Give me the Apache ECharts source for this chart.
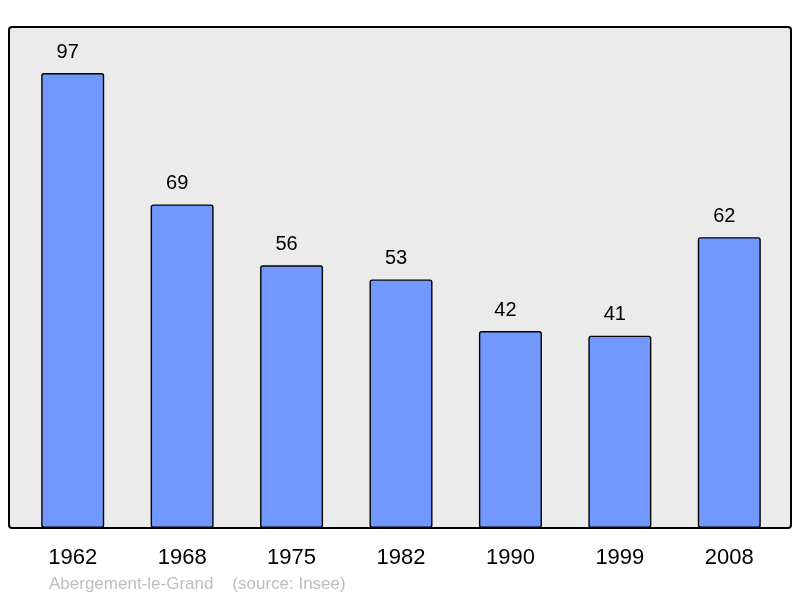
<!DOCTYPE html>
<html><head><meta charset="utf-8">
<script src="https://cdn.jsdelivr.net/npm/echarts@6/dist/echarts.min.js"></script>
<style>html,body{margin:0;padding:0;background:#fff}#c{width:800px;height:598px}</style>
</head><body><div id="c"></div>
<script>
var years = ['1962','1968','1975','1982','1990','1999','2008'];
var population = [97, 69, 56, 53, 42, 41, 62];
var footer = 'Abergement-le-Grand    (source: Insee)';

var chart = echarts.init(document.getElementById('c'), null, {renderer:'canvas'});
chart.setOption({
  animation:false,
  textStyle:{fontFamily:'Liberation Sans, Arial, sans-serif'},
  graphic:[
    {type:'rect', z:0, shape:{x:9,y:27,width:782,height:501,r:3},
     style:{fill:'#ebebeb', stroke:'#000', lineWidth:2}},
    {type:'text', z:1, left:49, top:576,
     style:{text:footer, fill:'#bdbdbd', font:'17px Liberation Sans, Arial, sans-serif'}}
  ],
  grid:{left:18, right:16, top:59, bottom:70},
  xAxis:{type:'category', data:years,
    axisLine:{show:false}, axisTick:{show:false},
    axisLabel:{fontSize:22, color:'#000', margin:19}},
  yAxis:{type:'value', min:0, max:100, show:false, splitLine:{show:false}},
  series:[{type:'bar', z:2, data:population, barWidth:63,
    itemStyle:{color:'#7098ff', borderColor:'#000', borderWidth:1.4, borderRadius:2},
    label:{show:true, position:'top', distance:11, offset:[-5,0], fontSize:20, color:'#000'}}]
});
</script></body></html>
